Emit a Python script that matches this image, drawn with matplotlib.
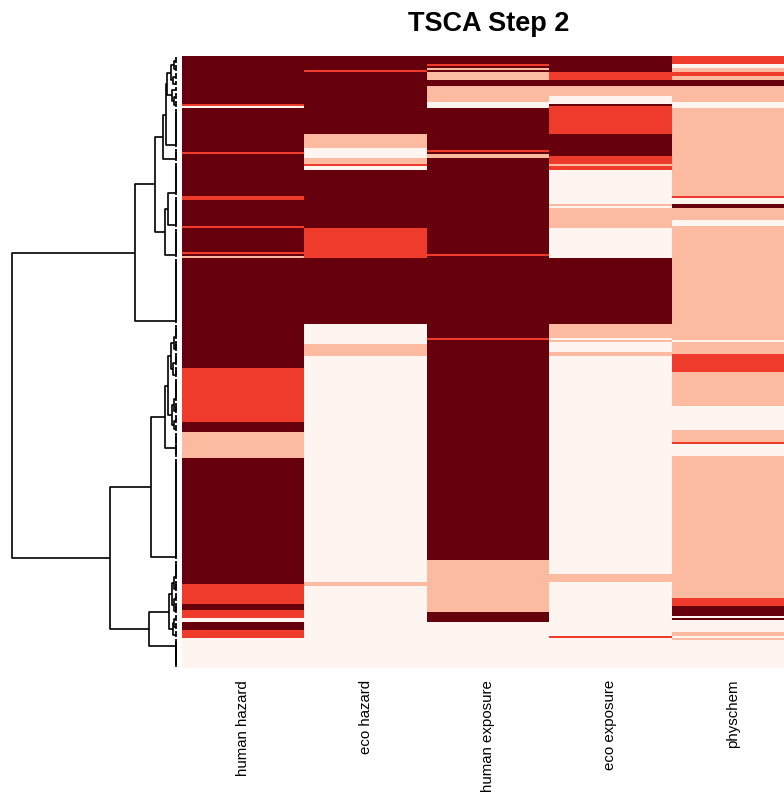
import numpy as np
import matplotlib
matplotlib.use('Agg')
import matplotlib.pyplot as plt
from matplotlib.colors import ListedColormap
from matplotlib.collections import LineCollection

plt.rcParams['font.family'] = ['Liberation Sans', 'DejaVu Sans']

# score levels 0..3, low to high
level_colors = ['#fff5f0', '#fcbba1', '#ef3b2c', '#67000d']
columns = ['human hazard', 'eco hazard', 'human exposure', 'eco exposure', 'physchem']

# each column as (level, rows) runs, rows already in dendrogram order
human_hazard = [(3, 24), (2, 1), (0, 1), (3, 22), (2, 1), (3, 21), (2, 2), (3, 13), (2, 1),
                (3, 12), (2, 1), (3, 1), (1, 1), (3, 55), (2, 27), (3, 5), (1, 13), (3, 63),
                (2, 10), (3, 3), (2, 4), (0, 2), (3, 4), (2, 4), (0, 15)]
eco_hazard = [(3, 7), (2, 1), (3, 31), (1, 7), (0, 5), (1, 3), (2, 1), (0, 2), (3, 29),
              (2, 15), (3, 33), (0, 10), (1, 6), (0, 113), (1, 2), (0, 41)]
human_exposure = [(3, 4), (2, 1), (3, 1), (1, 1), (3, 1), (1, 4), (3, 3), (1, 8), (0, 3),
                  (3, 21), (2, 1), (3, 1), (1, 2), (3, 48), (2, 1), (3, 41), (2, 1),
                  (3, 110), (1, 26), (3, 5), (0, 23)]
eco_exposure = [(3, 8), (2, 4), (3, 3), (1, 5), (0, 4), (3, 1), (2, 14), (3, 11), (2, 4),
                (1, 1), (2, 2), (0, 17), (1, 1), (0, 1), (1, 10), (0, 15), (3, 33), (1, 7),
                (0, 1), (1, 1), (0, 5), (1, 2), (0, 109), (1, 4), (0, 27), (2, 1), (0, 15)]
physchem = [(2, 4), (0, 2), (1, 2), (2, 2), (1, 2), (3, 3), (1, 8), (0, 3), (1, 44), (2, 1),
            (0, 3), (3, 2), (1, 6), (0, 3), (1, 57), (0, 1), (1, 6), (2, 9), (1, 17), (0, 12),
            (1, 6), (2, 1), (0, 6), (1, 71), (2, 4), (3, 5), (0, 1), (3, 1), (0, 6), (1, 2),
            (0, 1), (1, 1), (0, 14)]

# row clustering: [merge height, left, right]; an int is a block of identical rows
t1 = [0.055, [0.03, [0.015, 4, 4], [0.02, 4, 3]], [0.025, 3, [0.012, 4, 4]]]
upper = [0.25, [0.128, [0.08, [0.06, t1, 20], 7], [0.067, [0.05, 17, 16], 15]], 33]
lower = [0.40,
         [0.152, [0.067, [0.05, [0.03, [0.012, 8, 6], [0.02, 7, 6]],
                          [0.025, [0.01, 12, 6], [0.015, 5, 4]]], [0, 6, 7]], 51],
         [0.165, [0.045, [0.025, [0.01, 10, 6], [0.015, 5, 6]], [0.02, [0.01, 4, 4], 4]],
          [0, 1, [0, 1, 13]]]]
tree = [1.0, upper, lower]


def expand(runs):
    return np.concatenate([np.full(n, lvl) for lvl, n in runs])


data = np.column_stack([expand(c) for c in
                        (human_hazard, eco_hazard, human_exposure, eco_exposure, physchem)])
n_rows = data.shape[0]

segs = []


def layout(node, start):
    if isinstance(node, int):
        # identical rows merge one after another at height 0
        pos = start + 0.5
        for k in range(1, node):
            leaf = start + k + 0.5
            segs.append([(0, pos), (0, leaf)])
            pos = (pos + leaf) / 2
        return pos, 0.0, node
    h, left, right = node
    p1, h1, n1 = layout(left, start)
    p2, h2, n2 = layout(right, start + n1)
    segs.append([(h1, p1), (h, p1), (h, p2), (h2, p2)])
    return (p1 + p2) / 2, h, n1 + n2


layout(tree, 0)

W, H = 784, 792
fig = plt.figure(figsize=(W / 100, H / 100), dpi=100)

top, bottom = 56, 668
ax = fig.add_axes([182 / W, 1 - bottom / H, 612 / W, (bottom - top) / H])
ax.imshow(data, aspect='auto', interpolation='nearest',
          cmap=ListedColormap(level_colors), vmin=-0.5, vmax=3.5,
          extent=(0, 5, n_rows, 0))
ax.set_xticks(np.arange(5) + 0.5)
ax.set_xticklabels(columns, rotation=90, fontsize=10.8)
ax.set_yticks([])
ax.tick_params(axis='x', length=0, pad=8.5)
for s in ax.spines.values():
    s.set_visible(False)

dax = fig.add_axes([12 / W, 1 - bottom / H, 164 / W, (bottom - top) / H])
dax.add_collection(LineCollection(segs, colors='black', linewidths=1.2, clip_on=False))
dax.set_xlim(1.0, 0.0)
dax.set_ylim(n_rows, 0)
dax.axis('off')

fig.text(489 / W, 1 - 31 / H, 'TSCA Step 2', ha='center', va='baseline',
         fontsize=19.5, fontweight='bold')

fig.savefig('out.png', dpi=100)
